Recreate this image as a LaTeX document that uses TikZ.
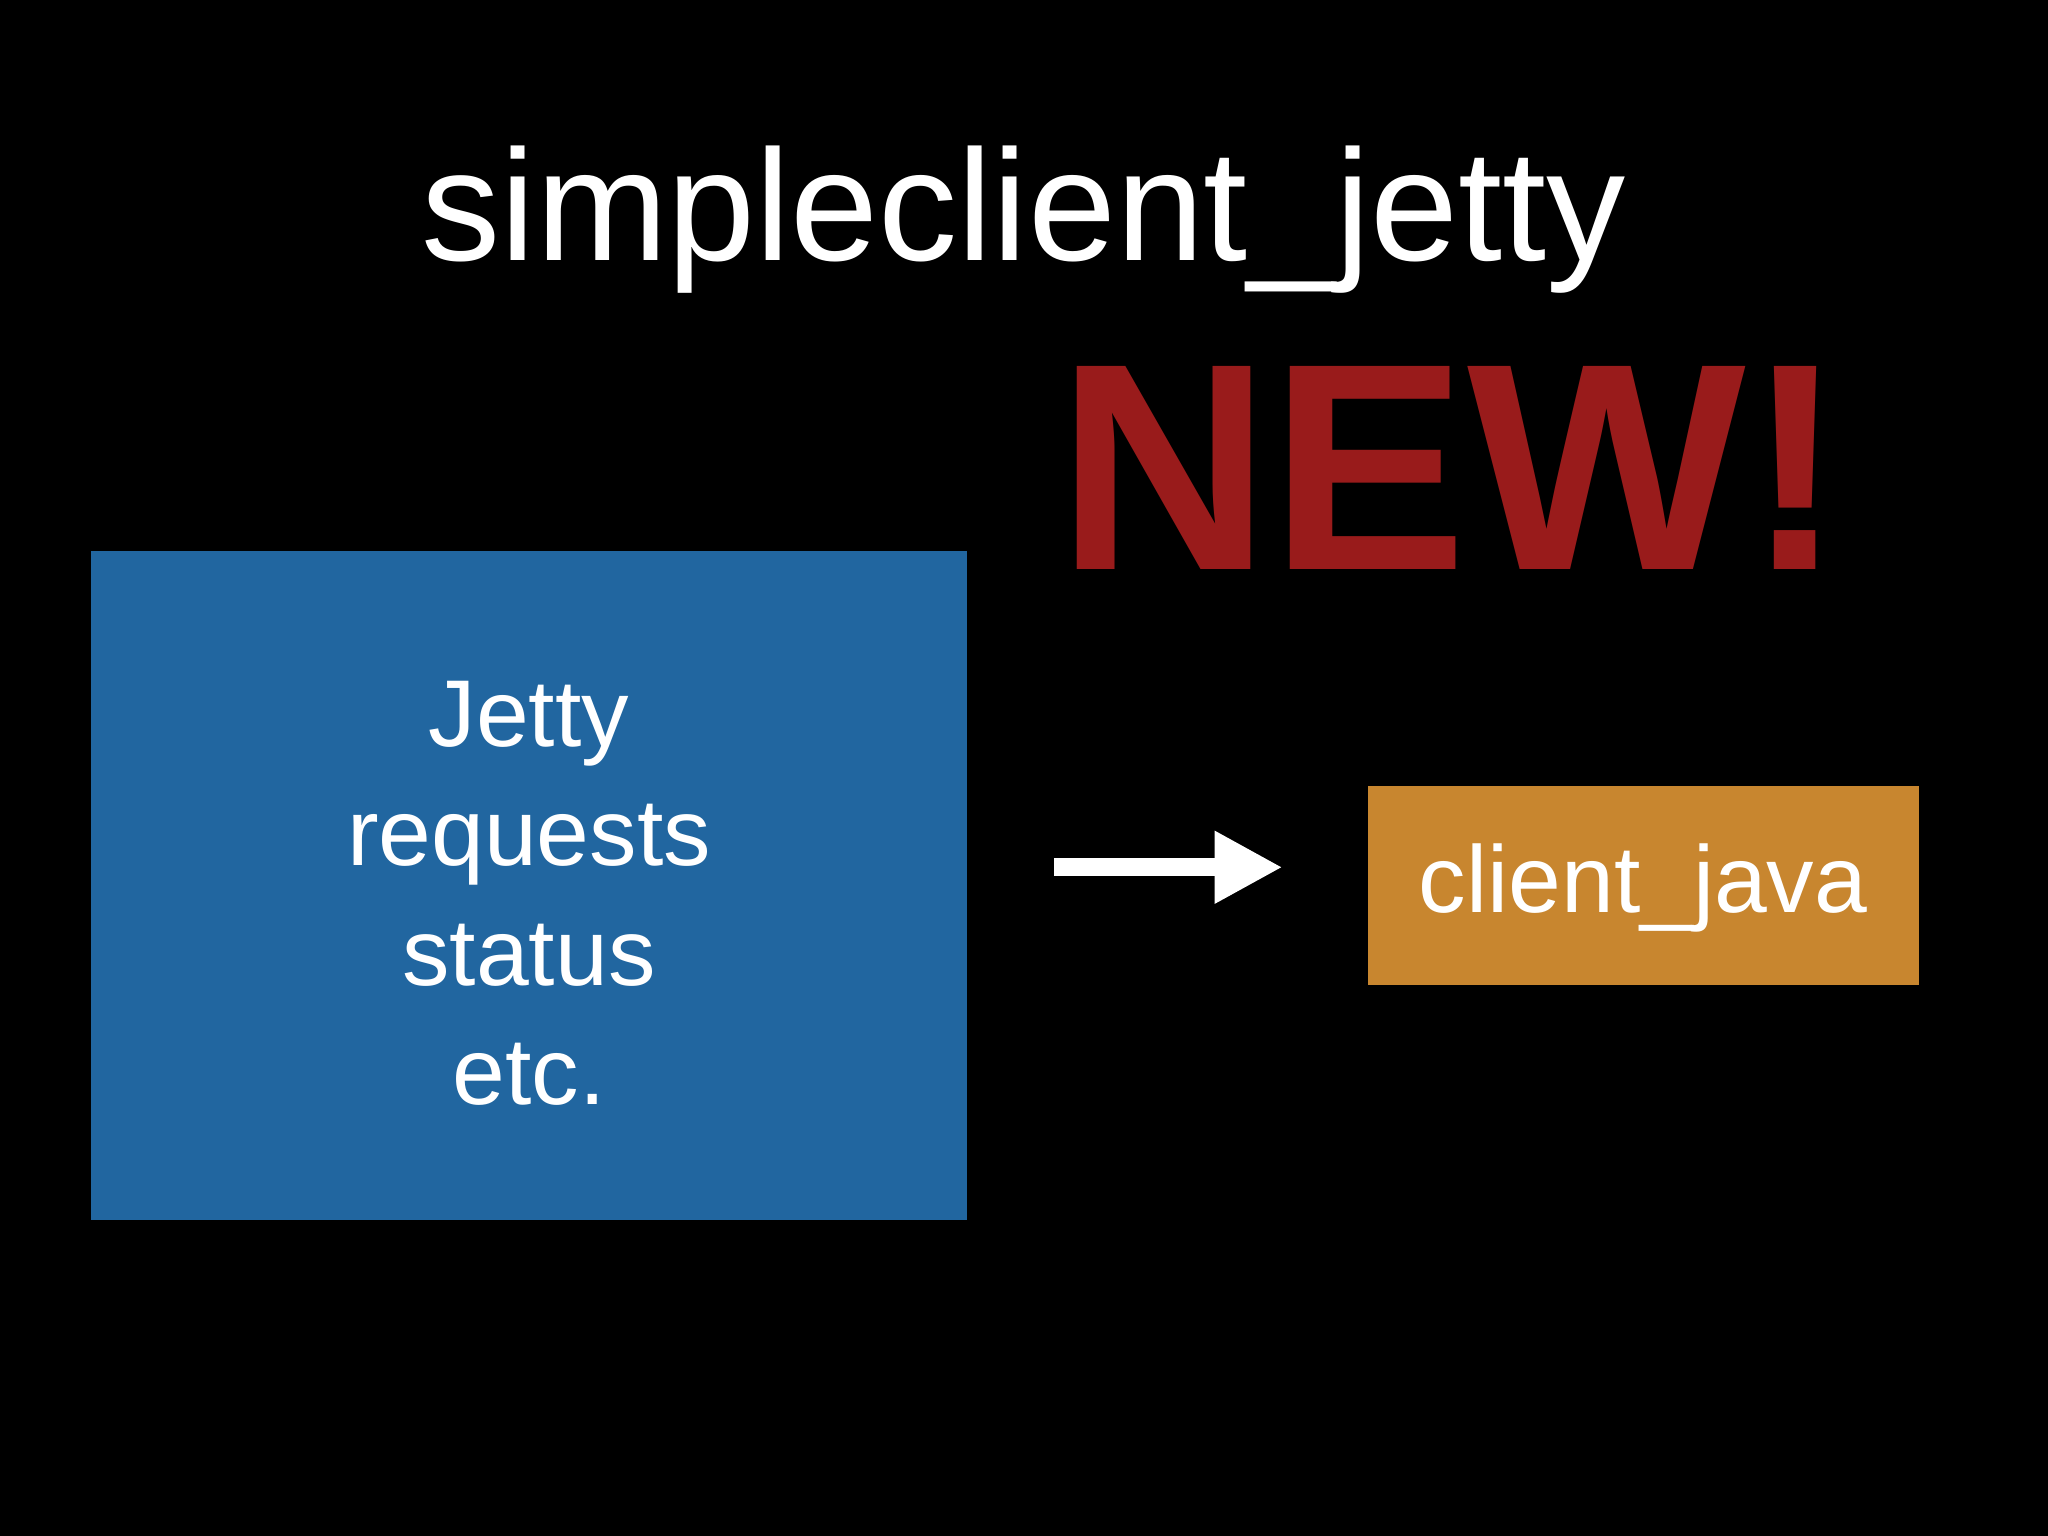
\documentclass[tikz,border=0pt]{standalone}
\usepackage{fontspec}
\setmainfont{Liberation Sans}
\usetikzlibrary{arrows.meta}
\definecolor{bluebox}{HTML}{2166A0}
\definecolor{orangebox}{HTML}{C8862F}
\definecolor{newred}{HTML}{991B1B}
\begin{document}
\begin{tikzpicture}[x=0.0130612cm,y=-0.0130612cm,
  boxtext/.style={text=white,font=\fontsize{27}{34}\selectfont,align=center}]
\fill[black] (0,0) rectangle (1568,1176);
\useasboundingbox (0,0) rectangle (1568,1176);
\node[text=white,font=\fontsize{45}{50}\selectfont] (title) at (784,168) {simpleclient\_jetty};
\node[text=newred,font=\fontsize{84}{90}\selectfont\bfseries] (new) at (1111,358) {NEW!};
\fill[bluebox] (70,422) rectangle (740,934);
\node[boxtext] (jetty) at (405,684) {Jetty\\requests\\status\\etc.};
\fill[orangebox] (1047,602) rectangle (1469,754);
\node[boxtext] (client) at (1258,680) {client\_java};
\coordinate (a1) at (807,664);
\coordinate (a2) at (982,664);
\draw[white,line width=0.18cm,-{Triangle[length=0.68cm,width=0.68cm]}] (a1) -- (a2);
\end{tikzpicture}
\end{document}
